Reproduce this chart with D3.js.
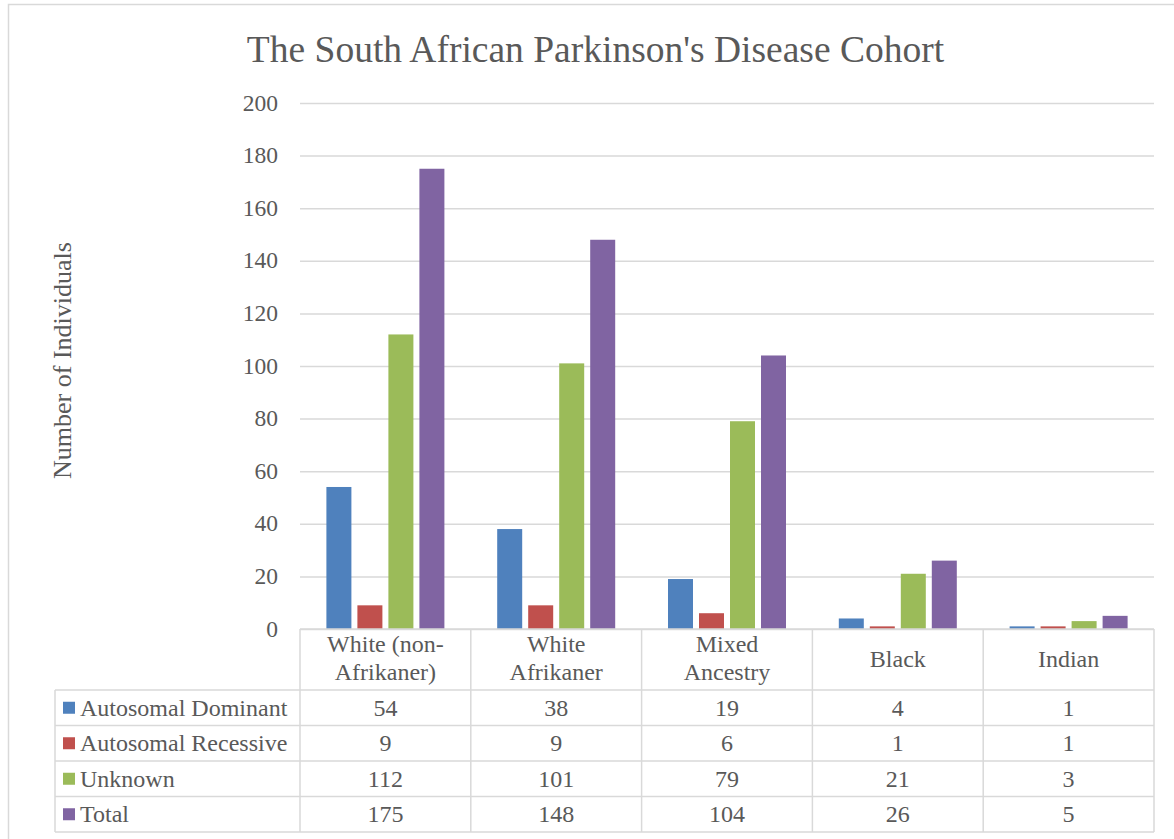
<!DOCTYPE html>
<html>
<head>
<meta charset="utf-8">
<script src="https://cdn.jsdelivr.net/npm/d3@7"></script>
<style>
  html, body { margin: 0; padding: 0; background: #fff; }
  svg { display: block; font-family: "Liberation Serif", "Times New Roman", serif; }
</style>
</head>
<body>
<svg id="chart" width="1174" height="839"></svg>
<script>
// Cohort counts by ancestry group and inheritance pattern
const categories = [["White (non-", "Afrikaner)"], ["White", "Afrikaner"], ["Mixed", "Ancestry"], ["Black"], ["Indian"]];
const seriesNames = ["Autosomal Dominant", "Autosomal Recessive", "Unknown", "Total"];
const autosomalDominant = [54, 38, 19, 4, 1];
const autosomalRecessive = [9, 9, 6, 1, 1];
const unknown = [112, 101, 79, 21, 3];
const total = [175, 148, 104, 26, 5];
const yTicks = [0, 20, 40, 60, 80, 100, 120, 140, 160, 180, 200];
const colors = ["#4F81BD", "#C0504D", "#9BBB59", "#8064A2"];

const seriesValues = [autosomalDominant, autosomalRecessive, unknown, total];

const svg = d3.select("#chart");
const textColor = "#595959";
const gridColor = "#D9D9D9";
const serif = "'Liberation Serif', 'Times New Roman', serif";

// chart frame
svg.append("rect")
  .attr("x", 8.5).attr("y", 4.5)
  .attr("width", 1180).attr("height", 850)
  .attr("fill", "none").attr("stroke", gridColor).attr("stroke-width", 1.5);

const plot = { left: 300, right: 1154, top: 103, bottom: 629 };

const x = d3.scaleBand()
  .domain(d3.range(categories.length))
  .range([plot.left, plot.right])
  .paddingInner(0).paddingOuter(0);

const y = d3.scaleLinear().domain([0, 200]).range([plot.bottom, plot.top]);

const barW = 25, barGap = 6;
const groupW = seriesNames.length * barW + (seriesNames.length - 1) * barGap;
const xInner = d3.scaleBand()
  .domain(d3.range(seriesNames.length))
  .range([(x.bandwidth() - groupW) / 2, (x.bandwidth() + groupW) / 2])
  .paddingInner(barGap / (barW + barGap)).paddingOuter(0);

// title
svg.append("text")
  .attr("x", 595.5).attr("y", 62)
  .attr("text-anchor", "middle")
  .attr("font-size", 37.5)
  .attr("fill", textColor)
  .text("The South African Parkinson's Disease Cohort");

// gridlines + y axis labels
const yAxis = d3.axisLeft(y).tickValues(yTicks).tickSize(-(plot.right - plot.left)).tickPadding(22);
const yg = svg.append("g").attr("transform", `translate(${plot.left},0)`).call(yAxis);
yg.select(".domain").remove();
yg.selectAll(".tick line").attr("stroke", gridColor).attr("stroke-width", 1.5);
yg.selectAll(".tick text")
  .attr("fill", textColor)
  .attr("font-size", 23.5)
  .attr("font-family", serif)
  .attr("dy", "0.3em");

// y axis title
svg.append("text")
  .attr("transform", `translate(71,360.5) rotate(-90)`)
  .attr("text-anchor", "middle")
  .attr("font-size", 26)
  .attr("fill", textColor)
  .text("Number of Individuals");

// bars
const groups = svg.append("g").selectAll("g")
  .data(categories.map((c, i) => i))
  .join("g")
  .attr("transform", i => `translate(${x(i)},0)`);

groups.selectAll("rect")
  .data(i => seriesValues.map((vals, s) => ({ s, v: vals[i] })))
  .join("rect")
  .attr("x", d => xInner(d.s))
  .attr("width", xInner.bandwidth())
  .attr("y", d => y(d.v))
  .attr("height", d => y(0) - y(d.v))
  .attr("fill", d => colors[d.s]);

// data table below the plot
const tableLeft = 55;
const headerBottom = 690;
const rowH = 35.5;
const rowTops = seriesNames.map((n, i) => headerBottom + i * rowH);
const tableBottom = headerBottom + seriesNames.length * rowH;

const tbl = svg.append("g").attr("stroke", gridColor).attr("stroke-width", 1.5).attr("fill", "none");
// horizontal lines
tbl.append("line").attr("x1", plot.left).attr("x2", plot.right).attr("y1", plot.bottom).attr("y2", plot.bottom);
rowTops.concat([tableBottom]).forEach(ry => {
  tbl.append("line").attr("x1", tableLeft).attr("x2", plot.right).attr("y1", ry).attr("y2", ry);
});
// vertical lines
tbl.append("line").attr("x1", tableLeft).attr("x2", tableLeft).attr("y1", headerBottom).attr("y2", tableBottom);
d3.range(categories.length + 1).forEach(i => {
  const vx = i < categories.length ? x(i) : plot.right;
  tbl.append("line").attr("x1", vx).attr("x2", vx).attr("y1", plot.bottom).attr("y2", tableBottom);
});

// category header labels
const fs = 24;
categories.forEach((lines, i) => {
  const cx = x(i) + x.bandwidth() / 2;
  const t = svg.append("text")
    .attr("text-anchor", "middle")
    .attr("font-size", fs)
    .attr("fill", textColor);
  const lineH = 28;
  const startY = lines.length === 2 ? 652 : 667;
  lines.forEach((ln, k) => {
    t.append("tspan").attr("x", cx).attr("y", startY + k * lineH).text(ln);
  });
});

// legend keys + values per row
seriesNames.forEach((name, s) => {
  const cy = rowTops[s] + rowH / 2;
  svg.append("rect")
    .attr("x", 63).attr("y", cy - 6)
    .attr("width", 12).attr("height", 12)
    .attr("fill", colors[s]);
  svg.append("text")
    .attr("x", 80).attr("y", cy + 8)
    .attr("font-size", fs)
    .attr("fill", textColor)
    .text(name);
  seriesValues[s].forEach((v, i) => {
    svg.append("text")
      .attr("x", x(i) + x.bandwidth() / 2).attr("y", cy + 8)
      .attr("text-anchor", "middle")
      .attr("font-size", fs)
      .attr("fill", textColor)
      .text(v);
  });
});
</script>
</body>
</html>
